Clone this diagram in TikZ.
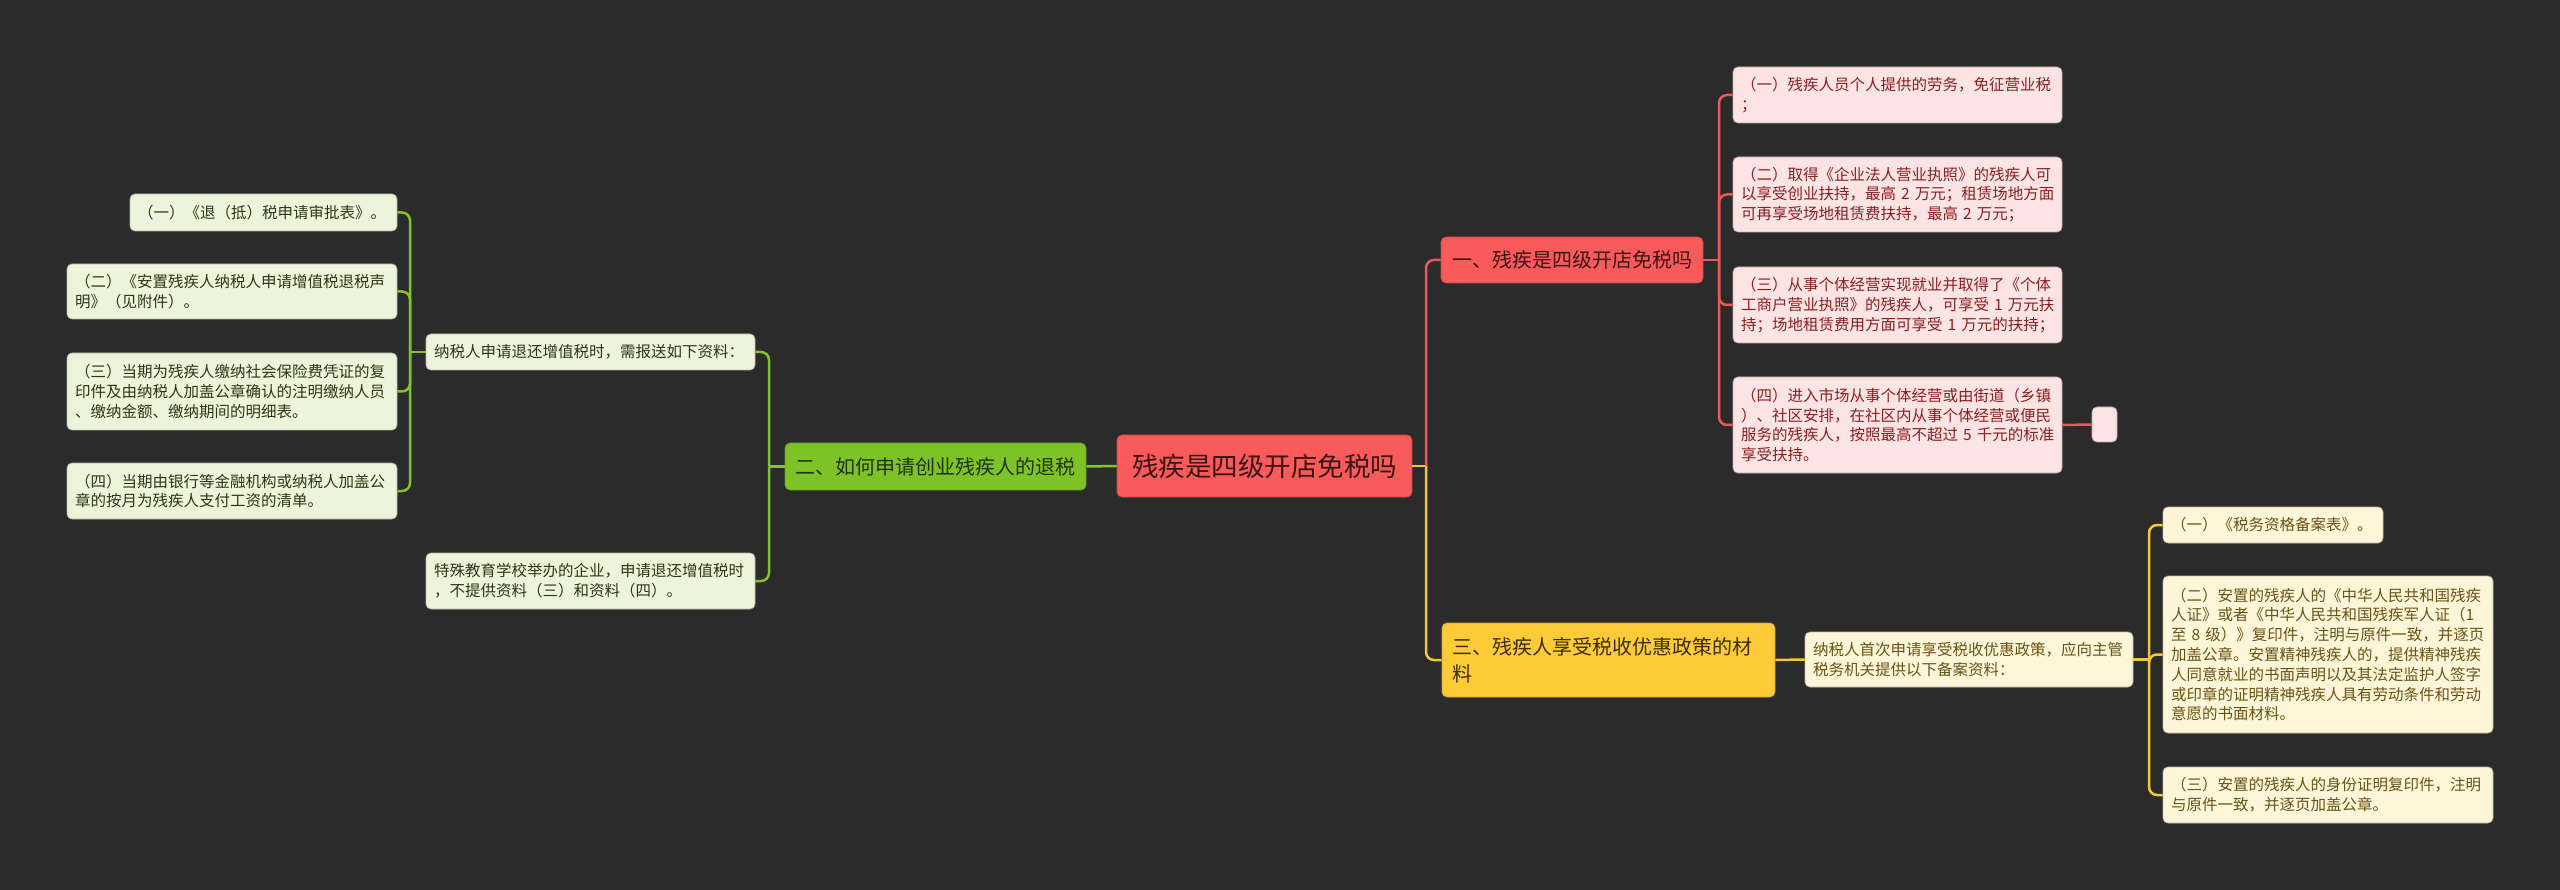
\documentclass[tikz,border=0pt]{standalone}
\usepackage{fontspec}
\newfontfamily\cjk{Noto Sans CJK SC}
\definecolor{bgc}{RGB}{43,43,43}
\definecolor{rootfill}{RGB}{249,90,90}
\definecolor{roottext}{RGB}{60,20,20}
\definecolor{rleaffill}{RGB}{253,228,228}
\definecolor{rleaftext}{RGB}{140,30,30}
\definecolor{rlinec}{RGB}{236,88,88}
\definecolor{gbranchfill}{RGB}{125,195,38}
\definecolor{gbranchtext}{RGB}{35,50,10}
\definecolor{gleaffill}{RGB}{236,245,220}
\definecolor{gleaftext}{RGB}{45,55,20}
\definecolor{glinec}{RGB}{130,195,45}
\definecolor{ybranchfill}{RGB}{253,202,56}
\definecolor{ybranchtext}{RGB}{60,45,5}
\definecolor{yleaffill}{RGB}{255,246,218}
\definecolor{yleaftext}{RGB}{105,82,20}
\definecolor{ylinec}{RGB}{245,200,60}
\begin{document}
\begin{tikzpicture}[x=1pt,y=-1pt,
  basebox/.style={rectangle, rounded corners=5pt, inner ysep=0pt, line width=0.8pt, align=left},
  rootbox/.style={basebox, fill=rootfill, draw=rootfill!80!black, text=roottext, align=center,
    font=\cjk\fontsize{26.5}{32}\selectfont},
  rbranch/.style={basebox, fill=rootfill, draw=rootfill!80!black, text=roottext, align=center,
    font=\cjk\fontsize{20}{27}\selectfont},
  gbranch/.style={basebox, fill=gbranchfill, draw=gbranchfill!80!black, text=gbranchtext, align=center,
    font=\cjk\fontsize{20}{27}\selectfont},
  ybranch/.style={basebox, fill=ybranchfill, draw=ybranchfill!80!black, text=ybranchtext, inner xsep=10pt,
    font=\cjk\fontsize{20}{27}\selectfont},
  rleaf/.style={basebox, fill=rleaffill, draw=rleaffill!75!black, text=rleaftext, inner xsep=8pt,
    font=\cjk\fontsize{15.5}{19.8}\selectfont},
  gleaf/.style={basebox, fill=gleaffill, draw=gleaffill!75!black, text=gleaftext, inner xsep=8pt,
    font=\cjk\fontsize{15.5}{19.8}\selectfont},
  yleaf/.style={basebox, fill=yleaffill, draw=yleaffill!75!black, text=yleaftext, inner xsep=8pt,
    font=\cjk\fontsize{15.5}{19.8}\selectfont},
  rln/.style={draw=rlinec, line width=2.5pt, rounded corners=8pt},
  gln/.style={draw=glinec, line width=2.5pt, rounded corners=8pt},
  yln/.style={draw=ylinec, line width=2.5pt, rounded corners=8pt}
]
\fill[bgc] (0,0) rectangle (2560,890);
\useasboundingbox (0,0) rectangle (2560,890);

% root and branches
\node[rootbox, minimum width=295pt, minimum height=62pt] (root) at (1264.5,466) {残疾是四级开店免税吗};
\node[rbranch, minimum width=262pt, minimum height=46pt] (b1) at (1572,260) {一、残疾是四级开店免税吗};
\node[gbranch, minimum width=301pt, minimum height=47pt] (b2) at (935.5,466.5) {二、如何申请创业残疾人的退税};
\node[ybranch, minimum width=333pt, minimum height=74pt, text width=313pt] (b3) at (1608.5,660) {三、残疾人享受税收优惠政策的材\\料};

% red leaves
\node[rleaf, minimum width=329pt, minimum height=56pt, text width=313pt] (l1) at (1897.5,95) {（一）残疾人员个人提供的劳务，免征营业税\\；};
\node[rleaf, minimum width=329pt, minimum height=75pt, text width=313pt] (l2) at (1897.5,194.5) {（二）取得《企业法人营业执照》的残疾人可\\以享受创业扶持，最高~2~万元；租赁场地方面\\可再享受场地租赁费扶持，最高~2~万元；};
\node[rleaf, minimum width=329pt, minimum height=76pt, text width=313pt] (l3) at (1897.5,305) {（三）从事个体经营实现就业并取得了《个体\\工商户营业执照》的残疾人，可享受~1~万元扶\\持；场地租赁费用方面可享受~1~万元的扶持；};
\node[rleaf, minimum width=329pt, minimum height=96pt, text width=313pt] (l4) at (1897.5,425) {（四）进入市场从事个体经营或由街道（乡镇\\）、社区安排，在社区内从事个体经营或便民\\服务的残疾人，按照最高不超过~5~千元的标准\\享受扶持。};
\node[rleaf, minimum width=25pt, minimum height=35pt, inner xsep=0pt] (e) at (2104.5,424.5) {};

% green leaves
\node[gleaf, minimum width=329pt, minimum height=36pt, text width=313pt] (gm1) at (590.5,352) {纳税人申请退还增值税时，需报送如下资料：};
\node[gleaf, minimum width=329pt, minimum height=56pt, text width=313pt] (gm2) at (590.5,581) {特殊教育学校举办的企业，申请退还增值税时\\，不提供资料（三）和资料（四）。};
\node[gleaf, minimum width=267pt, minimum height=37pt, text width=251pt] (g1) at (263.5,212.5) {（一）《退（抵）税申请审批表》。};
\node[gleaf, minimum width=330pt, minimum height=55pt, text width=314pt] (g2) at (232,291.5) {（二）《安置残疾人纳税人申请增值税退税声\\明》（见附件）。};
\node[gleaf, minimum width=330pt, minimum height=77pt, text width=314pt] (g3) at (232,391.5) {（三）当期为残疾人缴纳社会保险费凭证的复\\印件及由纳税人加盖公章确认的注明缴纳人员\\、缴纳金额、缴纳期间的明细表。};
\node[gleaf, minimum width=330pt, minimum height=56pt, text width=314pt] (g4) at (232,491) {（四）当期由银行等金融机构或纳税人加盖公\\章的按月为残疾人支付工资的清单。};

% yellow leaves
\node[yleaf, minimum width=328pt, minimum height=55pt, text width=312pt] (ym) at (1969,659.5) {纳税人首次申请享受税收优惠政策，应向主管\\税务机关提供以下备案资料：};
\node[yleaf, minimum width=220pt, minimum height=36pt, text width=204pt] (y1) at (2273,525) {（一）《税务资格备案表》。};
\node[yleaf, minimum width=330pt, minimum height=157pt, text width=314pt] (y2) at (2328,654.5) {（二）安置的残疾人的《中华人民共和国残疾\\人证》或者《中华人民共和国残疾军人证（1\\至~8~级）》复印件，注明与原件一致，并逐页\\加盖公章。安置精神残疾人的，提供精神残疾\\人同意就业的书面声明以及其法定监护人签字\\或印章的证明精神残疾人具有劳动条件和劳动\\意愿的书面材料。};
\node[yleaf, minimum width=330pt, minimum height=56pt, text width=314pt] (y3) at (2328,795) {（三）安置的残疾人的身份证明复印件，注明\\与原件一致，并逐页加盖公章。};

% connectors: root
\coordinate (rs) at (1426,466);
\draw[yln] (root.east) -- (rs);
\draw[rln] (rs) |- (b1.west);
\draw[yln] (rs) |- (b3.west);
\draw[gln] (root.west) -- (b2.east);

% red branch
\coordinate (rs2) at (1719,260);
\draw[rln] (b1.east) -- (rs2);
\foreach \n in {l1,l2,l3,l4} \draw[rln] (rs2) |- (\n.west);
\draw[rln] (l4.east) -- (e.west);

% green branch
\coordinate (gs) at (769,466.5);
\draw[gln] (b2.west) -- (gs);
\draw[gln] (gs) |- (gm1.east);
\draw[gln] (gs) |- (gm2.east);
\coordinate (gs2) at (410,352);
\draw[gln] (gm1.west) -- (gs2);
\foreach \n in {g1,g2,g3,g4} \draw[gln] (gs2) |- (\n.east);

% yellow branch
\draw[yln] (b3.east) -- (ym.west);
\coordinate (ys) at (2149,659.5);
\draw[yln] (ym.east) -- (ys);
\foreach \n in {y1,y2,y3} \draw[yln] (ys) |- (\n.west);
\end{tikzpicture}
\end{document}
